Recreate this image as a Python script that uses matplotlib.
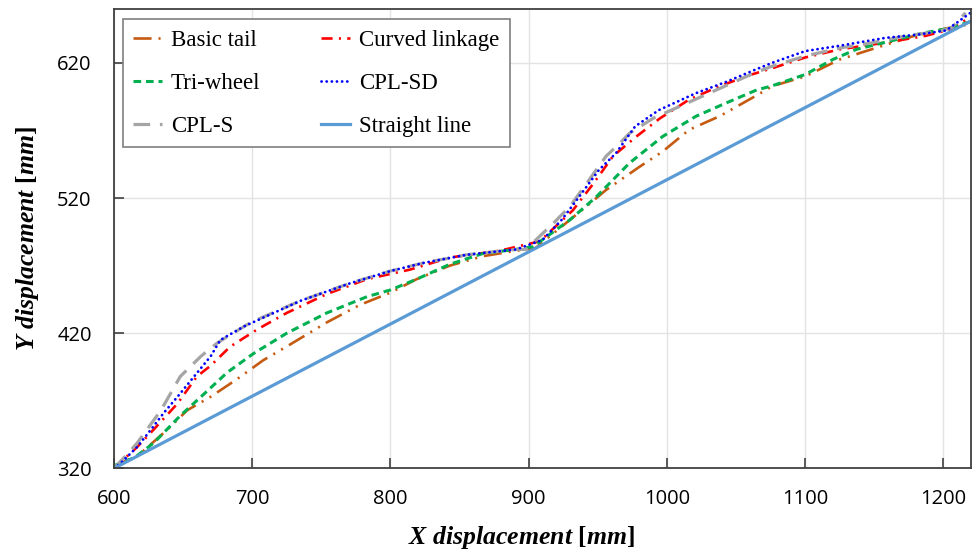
import matplotlib
matplotlib.use("Agg")
import matplotlib.pyplot as plt

plt.rcParams['lines.scale_dashes'] = False
plt.rcParams['mathtext.fontset'] = 'custom'
plt.rcParams['mathtext.it'] = 'Liberation Serif:italic:bold'
plt.rcParams['mathtext.rm'] = 'Liberation Serif:bold'
plt.rcParams['mathtext.bf'] = 'Liberation Serif:bold'

# ---------------- data ----------------
basic_x = [600, 605, 617, 639, 653, 670, 689, 708, 728, 754, 778, 800, 819, 843, 867, 891, 905,
           918, 942, 956, 980, 997, 1016, 1038, 1065, 1076, 1100, 1125, 1154, 1178, 1202, 1216]
basic_y = [320, 324, 329, 349, 363, 373, 386, 400, 412, 428, 441, 450, 460, 470, 477, 481, 483,
           494, 514, 526, 543, 554.5, 570.5, 580.5, 596, 602.7, 610, 622.5, 632, 639.7, 645.5, 648]

tri_x = [600, 615, 629, 648, 663, 682, 701, 725, 754, 783, 800, 819, 843, 867, 891, 903,
         930, 949, 973, 997, 1021, 1043, 1065, 1076, 1100, 1120, 1137, 1161, 1185, 1204, 1221]
tri_y = [322, 328, 339, 359, 373, 391, 405, 420, 435, 447, 452, 460, 471, 479, 482, 484,
         504, 521, 546, 565.6, 580.5, 590.4, 600, 603, 611.4, 622.5, 630, 636, 642, 645.5, 651]

curved_x = [600, 617, 629, 646, 660, 670, 684, 704, 725, 754, 783, 814, 843, 879, 908,
            932, 947, 961, 978, 995, 1016, 1038, 1060, 1076, 1100, 1125, 1158, 1187, 1206, 1218]
curved_y = [320, 336, 349, 368, 388, 396, 410, 423, 435, 449, 460, 467, 476, 481, 488,
            511, 531, 551, 565.6, 579, 592.8, 602.7, 611, 616, 624, 630, 635, 640, 645, 653]

cplsd_x = [600, 605, 617, 627, 636, 646, 658, 670, 677, 694, 735, 771, 800, 824, 855, 891, 910,
           924, 936.5, 951, 963, 977, 994, 1021, 1043, 1064, 1076, 1100, 1125, 1158, 1182, 1202, 1219.5]
cplsd_y = [320, 324, 336, 349, 361, 373, 388, 403, 415, 425, 444, 457, 466, 472, 478, 482, 489,
           504, 521, 541, 553, 573, 585, 597.6, 606, 615, 620, 628.7, 632.7, 638.5, 641, 644, 657]

cpls_x = [600, 611, 617, 634, 648, 663, 675, 699, 735, 771, 800, 824, 855, 891, 898,
          918, 930, 942, 956, 966, 973, 990, 1014, 1038, 1062, 1076, 1100, 1125, 1149, 1173, 1197, 1206, 1216]
cpls_y = [320, 332, 339, 363, 388, 403, 413, 428, 444, 457, 466, 472, 478, 482, 482,
          501.5, 514, 531, 551, 560.6, 568, 579, 590, 601, 612, 617.5, 625, 631, 635, 640, 643.4, 646, 657]

straight_x = [600, 1220]
straight_y = [320, 651]

labels = ["Basic tail", "Curved linkage", "Tri-wheel", "CPL-SD", "CPL-S", "Straight line"]
x_ticks = [600, 700, 800, 900, 1000, 1100, 1200]
y_ticks = [320, 420, 520, 620]

# ---------------- figure ----------------
fig = plt.figure(figsize=(9.74, 5.51), dpi=100)
ax = fig.add_axes([0.117, 0.150, 0.880, 0.834])

h_basic, = ax.plot(basic_x, basic_y, color='#C55A11', lw=1.9,
                   dashes=(13, 5, 1.5, 5, 1.5, 5), label=labels[0])
h_curved, = ax.plot(curved_x, curved_y, color='#FF0000', lw=1.9,
                    dashes=(8, 4.5, 1.5, 4.5), label=labels[1])
h_tri, = ax.plot(tri_x, tri_y, color='#00B050', lw=2.2,
                 dashes=(5.5, 3.5), label=labels[2])
h_cpls, = ax.plot(cpls_x, cpls_y, color='#A5A5A5', lw=2.3,
                  dashes=(12, 7), label=labels[4])
h_cplsd, = ax.plot(cplsd_x, cplsd_y, color='#0000FF', lw=2.0,
                   dashes=(0.1, 3.6), dash_capstyle='round', label=labels[3])
h_str, = ax.plot(straight_x, straight_y, color='#5B9BD5', lw=2.3, label=labels[5])

ax.set_xlim(600, 1220)
ax.set_ylim(320, 660)
ax.set_xticks(x_ticks)
ax.set_yticks(y_ticks)
ax.grid(True, color='#E3E3E3', lw=1.0)
ax.set_axisbelow(True)
ax.tick_params(direction='in', length=7, width=1.2, color='#404040')
ax.tick_params(axis='y', pad=16)
ax.tick_params(axis='x', pad=15)
for lab in ax.get_xticklabels() + ax.get_yticklabels():
    lab.set_fontfamily('Open Sans')
    lab.set_fontsize(14.5)
for sp in ax.spines.values():
    sp.set_color('#404040')
    sp.set_linewidth(1.3)

ax.set_xlabel(r'$\it{X\ displacement}$ [$\it{mm}$]', fontfamily='Liberation Serif',
              fontweight='bold', fontsize=18.5)
ax.set_ylabel(r'$\it{Y\ displacement}$ [$\it{mm}$]', fontfamily='Liberation Serif',
              fontweight='bold', fontsize=18.5)
ax.xaxis.set_label_coords(0.476, -0.122)
ax.yaxis.set_label_coords(-0.085, 0.5)

leg = ax.legend([h_basic, h_tri, h_cpls, h_curved, h_cplsd, h_str],
                [labels[0], labels[2], labels[4], labels[1], labels[3], labels[5]],
                ncol=2, loc='upper left', bbox_to_anchor=(0.0105, 0.977), borderaxespad=0,
                fancybox=False, framealpha=1, edgecolor='#7F7F7F',
                prop={'family': 'Liberation Serif', 'size': 16.5},
                handlelength=1.25, handletextpad=0.4, labelspacing=0.96,
                columnspacing=2.65, borderpad=0.45)
leg.get_frame().set_linewidth(1.2)

fig.savefig('out.png', dpi=100)
